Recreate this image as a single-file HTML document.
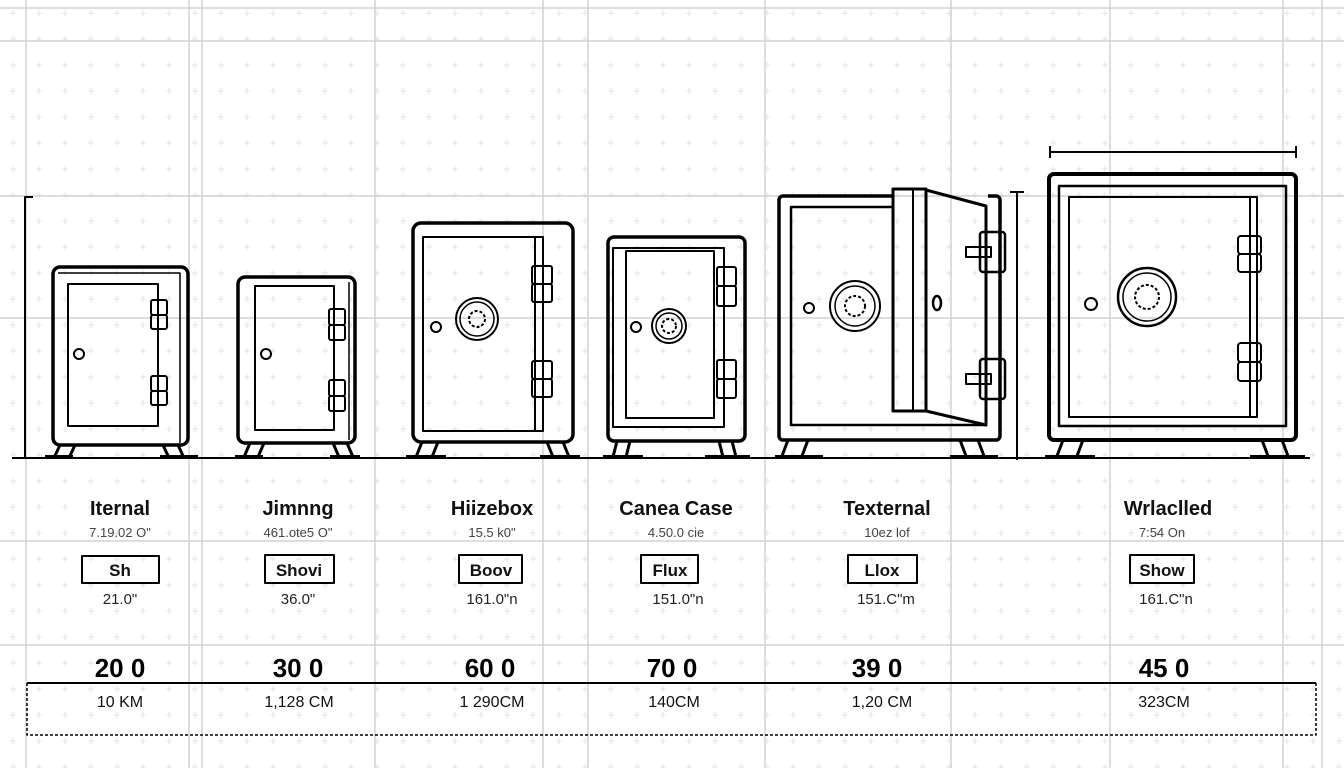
<!DOCTYPE html>
<html><head><meta charset="utf-8"><style>
html,body{margin:0;padding:0;background:#fff}
svg{display:block}
text{font-family:"Liberation Sans",sans-serif;text-anchor:middle}
.t{font-weight:bold;font-size:20px;fill:#111}
.s{font-size:13px;fill:#444}
.b{font-weight:bold;font-size:17px;fill:#111}
.v{font-size:15px;fill:#222}
.n{font-weight:bold;font-size:26px;fill:#000}
.c{font-size:16px;fill:#111}
</style></head><body>
<svg width="1344" height="768" viewBox="0 0 1344 768" xmlns="http://www.w3.org/2000/svg">
<defs>
<pattern id="dots" width="26" height="26" patternUnits="userSpaceOnUse">
<path d="M13 10v6M10 13h6" stroke="#e4e4e4" stroke-width="1"/>
</pattern>
</defs>
<rect width="1344" height="768" fill="#fff"/>
<rect width="1344" height="768" fill="url(#dots)"/>
<g stroke="#d2d2d2" stroke-width="1.5">
<line x1="0" y1="8" x2="1344" y2="8"/><line x1="0" y1="41" x2="1344" y2="41"/>
<line x1="0" y1="196" x2="1344" y2="196"/><line x1="0" y1="318" x2="1344" y2="318"/>
<line x1="0" y1="541" x2="1344" y2="541"/><line x1="0" y1="645" x2="1344" y2="645"/>
<line x1="26" y1="0" x2="26" y2="768"/><line x1="189" y1="0" x2="189" y2="768"/>
<line x1="202" y1="0" x2="202" y2="768"/><line x1="375" y1="0" x2="375" y2="768"/>
<line x1="543" y1="0" x2="543" y2="768"/><line x1="588" y1="0" x2="588" y2="768"/>
<line x1="765" y1="0" x2="765" y2="768"/><line x1="951" y1="0" x2="951" y2="768"/>
<line x1="1110" y1="0" x2="1110" y2="768"/><line x1="1283" y1="0" x2="1283" y2="768"/>
<line x1="1322" y1="0" x2="1322" y2="768"/>
</g>
<g fill="none" stroke="#000" stroke-linejoin="round">
<!-- ground -->
<line x1="12" y1="458" x2="1310" y2="458" stroke-width="2"/>
<!-- dims -->
<path d="M25 458V197h8" stroke-width="2"/>
<path d="M1017 460V192M1010 192h14" stroke-width="2"/>
<path d="M1050 152h246M1050 146v12M1296 146v12" stroke-width="2"/>

<!-- safe1 -->
<rect x="53" y="267" width="135" height="178" rx="7" stroke-width="3.5"/>
<path d="M58 273h122v170" stroke-width="1.5"/>
<rect x="68" y="284" width="90" height="142" stroke-width="2"/>
<rect x="151" y="300" width="16" height="15" rx="2" stroke-width="2"/><rect x="151" y="315" width="16" height="14" rx="2" stroke-width="2"/>
<rect x="151" y="376" width="16" height="15" rx="2" stroke-width="2"/><rect x="151" y="391" width="16" height="14" rx="2" stroke-width="2"/>
<circle cx="79" cy="354" r="5" stroke-width="2"/>
<path d="M60 445l-6 13M75 445l-6 13M163 445l6 13M178 445l6 13" stroke-width="3"/>
<path d="M45 457h28M160 457h38" stroke-width="4"/>

<!-- safe2 -->
<rect x="238" y="277" width="117" height="166" rx="7" stroke-width="3.5"/>
<path d="M349 282v158" stroke-width="1.5"/>
<rect x="255" y="286" width="79" height="144" stroke-width="2"/>
<rect x="329" y="309" width="16" height="16" rx="2" stroke-width="2"/><rect x="329" y="325" width="16" height="15" rx="2" stroke-width="2"/>
<rect x="329" y="380" width="16" height="16" rx="2" stroke-width="2"/><rect x="329" y="396" width="16" height="15" rx="2" stroke-width="2"/>
<circle cx="266" cy="354" r="5" stroke-width="2"/>
<path d="M250 443l-6 14M264 443l-6 14M333 443l6 14M347 443l6 14" stroke-width="3"/>
<path d="M235 457h28M330 457h30" stroke-width="4"/>

<!-- safe3 -->
<rect x="413" y="223" width="160" height="219" rx="8" stroke-width="3.5"/>
<rect x="423" y="237" width="120" height="194" stroke-width="2"/>
<line x1="535" y1="237" x2="535" y2="431" stroke-width="2"/>
<rect x="532" y="266" width="20" height="18" rx="2" stroke-width="2"/><rect x="532" y="284" width="20" height="18" rx="2" stroke-width="2"/>
<rect x="532" y="361" width="20" height="18" rx="2" stroke-width="2"/><rect x="532" y="379" width="20" height="18" rx="2" stroke-width="2"/>
<circle cx="477" cy="319" r="21" stroke-width="2"/><circle cx="477" cy="319" r="17" stroke-width="1.5"/><circle cx="477" cy="319" r="8" stroke-width="2" stroke-dasharray="3 2"/>
<circle cx="436" cy="327" r="5" stroke-width="2"/>
<path d="M422 442l-6 15M438 442l-6 15M547 442l6 15M563 442l6 15" stroke-width="3"/>
<path d="M406 457h40M540 457h40" stroke-width="4"/>

<!-- safe4 -->
<rect x="608" y="237" width="137" height="204" rx="6" stroke-width="3.5"/>
<rect x="613" y="248" width="111" height="179" stroke-width="2"/>
<rect x="626" y="251" width="88" height="167" stroke-width="2"/>
<rect x="717" y="267" width="19" height="19" rx="2" stroke-width="2"/><rect x="717" y="286" width="19" height="20" rx="2" stroke-width="2"/>
<rect x="717" y="360" width="19" height="19" rx="2" stroke-width="2"/><rect x="717" y="379" width="19" height="19" rx="2" stroke-width="2"/>
<circle cx="669" cy="326" r="17" stroke-width="2"/><circle cx="669" cy="326" r="13" stroke-width="1.5"/><circle cx="669" cy="326" r="7" stroke-width="2" stroke-dasharray="3 2"/>
<circle cx="636" cy="327" r="5" stroke-width="2"/>
<path d="M617 441l-4 16M630 441l-4 16M719 441l4 16M732 441l4 16" stroke-width="3"/>
<path d="M603 457h40M705 457h45" stroke-width="4"/>

<!-- safe5 -->
<path d="M893 196H783a4 4 0 0 0-4 4v236a4 4 0 0 0 4 4h213a4 4 0 0 0 4-4V200a4 4 0 0 0-4-4h-8" stroke-width="3.5"/>
<path d="M893 207H791v218h196" stroke-width="2.5"/>
<rect x="893" y="189" width="33" height="222" stroke-width="3"/>
<line x1="913" y1="189" x2="913" y2="411" stroke-width="2"/>
<path d="M926 190L986 206V425L926 411" stroke-width="3"/>
<rect x="980" y="232" width="25" height="40" rx="3" stroke-width="2.5"/><rect x="966" y="247" width="25" height="10" stroke-width="2"/>
<rect x="980" y="359" width="25" height="40" rx="3" stroke-width="2.5"/><rect x="966" y="374" width="25" height="10" stroke-width="2"/>
<circle cx="855" cy="306" r="25" stroke-width="2"/><circle cx="855" cy="306" r="20" stroke-width="1.5"/><circle cx="855" cy="306" r="10" stroke-width="2" stroke-dasharray="3 2"/>
<circle cx="809" cy="308" r="5" stroke-width="2"/>
<ellipse cx="937" cy="303" rx="4" ry="7" stroke-width="2.5"/>
<path d="M788 440l-6 16M808 440l-6 16M960 440l6 16M978 440l6 16" stroke-width="3"/>
<path d="M775 457h48M950 457h48" stroke-width="4"/>

<!-- safe6 -->
<rect x="1049" y="174" width="247" height="266" rx="5" stroke-width="4"/>
<rect x="1059" y="186" width="227" height="240" stroke-width="2.5"/>
<rect x="1069" y="197" width="188" height="220" stroke-width="2"/>
<line x1="1250" y1="197" x2="1250" y2="417" stroke-width="2"/>
<rect x="1238" y="236" width="23" height="18" rx="3" stroke-width="2"/><rect x="1238" y="254" width="23" height="18" rx="3" stroke-width="2"/>
<rect x="1238" y="343" width="23" height="19" rx="3" stroke-width="2"/><rect x="1238" y="362" width="23" height="19" rx="3" stroke-width="2"/>
<circle cx="1147" cy="297" r="29" stroke-width="2.5"/><circle cx="1147" cy="297" r="24" stroke-width="1.5"/><circle cx="1147" cy="297" r="12" stroke-width="2" stroke-dasharray="3 2"/>
<circle cx="1091" cy="304" r="6" stroke-width="2"/>
<path d="M1063 440l-6 16M1083 440l-6 16M1262 440l6 16M1282 440l6 16" stroke-width="3"/>
<path d="M1045 457h50M1250 457h55" stroke-width="4"/>

<!-- bottom box -->
<line x1="27" y1="683" x2="1316" y2="683" stroke-width="2"/>
<path d="M27 683V735H1316V683" stroke-width="1.5" stroke-dasharray="3 2"/>

<!-- tag boxes -->
<rect x="82" y="556" width="77" height="27" stroke-width="2"/>
<rect x="265" y="555" width="69" height="28" stroke-width="2"/>
<rect x="459" y="555" width="63" height="28" stroke-width="2"/>
<rect x="641" y="555" width="57" height="28" stroke-width="2"/>
<rect x="848" y="555" width="69" height="28" stroke-width="2"/>
<rect x="1130" y="555" width="64" height="28" stroke-width="2"/>
</g>

<text class="t" x="120" y="515">Iternal</text>
<text class="t" x="298" y="515">Jimnng</text>
<text class="t" x="492" y="515">Hiizebox</text>
<text class="t" x="676" y="515">Canea Case</text>
<text class="t" x="887" y="515">Texternal</text>
<text class="t" x="1168" y="515">Wrlaclled</text>

<text class="s" x="120" y="537">7.19.02 O"</text>
<text class="s" x="298" y="537">461.ote5 O"</text>
<text class="s" x="492" y="537">15.5 k0"</text>
<text class="s" x="676" y="537">4.50.0 cie</text>
<text class="s" x="887" y="537">10ez lof</text>
<text class="s" x="1162" y="537">7:54 On</text>

<text class="b" x="120" y="576">Sh</text>
<text class="b" x="299" y="576">Shovi</text>
<text class="b" x="491" y="576">Boov</text>
<text class="b" x="670" y="576">Flux</text>
<text class="b" x="882" y="576">Llox</text>
<text class="b" x="1162" y="576">Show</text>

<text class="v" x="120" y="604">21.0"</text>
<text class="v" x="298" y="604">36.0"</text>
<text class="v" x="492" y="604">161.0"n</text>
<text class="v" x="678" y="604">151.0"n</text>
<text class="v" x="886" y="604">151.C"m</text>
<text class="v" x="1166" y="604">161.C"n</text>

<text class="n" x="120" y="677">20 0</text>
<text class="n" x="298" y="677">30 0</text>
<text class="n" x="490" y="677">60 0</text>
<text class="n" x="672" y="677">70 0</text>
<text class="n" x="877" y="677">39 0</text>
<text class="n" x="1164" y="677">45 0</text>

<text class="c" x="120" y="707">10 KM</text>
<text class="c" x="299" y="707">1,128 CM</text>
<text class="c" x="492" y="707">1 290CM</text>
<text class="c" x="674" y="707">140CM</text>
<text class="c" x="882" y="707">1,20 CM</text>
<text class="c" x="1164" y="707">323CM</text>
</svg>
</body></html>
